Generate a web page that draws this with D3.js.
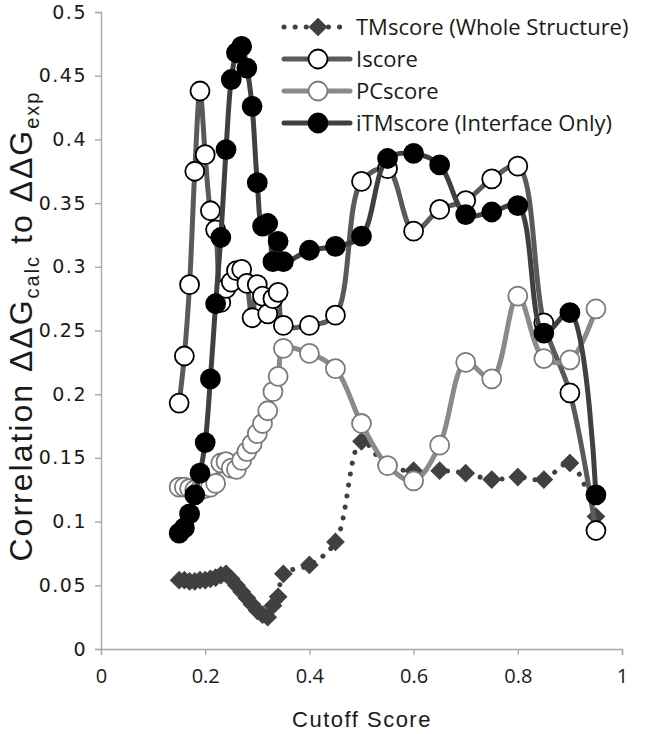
<!DOCTYPE html>
<html><head><meta charset="utf-8">
<script src="https://cdn.jsdelivr.net/npm/d3@7"></script>
<style>body{margin:0;background:#fff} svg{display:block}</style>
</head><body><svg id="c" width="653" height="734"></svg>
<script>
// ---- data ----
const cutoffs = [0.15,0.16,0.17,0.18,0.19,0.20,0.21,0.22,0.23,0.24,0.25,0.26,0.27,0.28,0.29,0.30,0.31,0.32,0.33,0.34,0.35,
                 0.40,0.45,0.50,0.55,0.60,0.65,0.70,0.75,0.80,0.85,0.90,0.95];
const tmscore = [0.054,0.054,0.053,0.053,0.054,0.054,0.055,0.056,0.058,0.059,0.055,0.050,0.045,0.040,0.035,0.030,0.027,0.025,0.034,0.041,0.059,
                 0.066,0.084,0.163,0.143,0.140,0.140,0.138,0.133,0.135,0.133,0.146,0.104];
const iscore  = [0.193,0.230,0.286,0.375,0.438,0.388,0.344,0.329,0.272,0.283,0.288,0.297,0.298,0.287,0.260,0.286,0.277,0.263,0.275,0.280,0.254,
                 0.254,0.262,0.367,0.377,0.328,0.345,0.352,0.369,0.379,0.256,0.201,0.093];
const pcscore = [0.127,0.127,0.126,0.125,0.125,0.126,0.127,0.130,0.146,0.147,0.142,0.141,0.148,0.155,0.161,0.169,0.177,0.187,0.202,0.214,0.236,
                 0.232,0.220,0.177,0.144,0.132,0.160,0.225,0.212,0.277,0.228,0.227,0.267];
const itmscore= [0.091,0.095,0.106,0.121,0.138,0.162,0.212,0.271,0.323,0.392,0.447,0.468,0.473,0.456,0.426,0.366,0.332,0.334,0.304,0.320,0.304,
                 0.313,0.316,0.324,0.385,0.389,0.380,0.341,0.343,0.348,0.248,0.264,0.121];
const seriesNames = ["TMscore (Whole Structure)","Iscore","PCscore","iTMscore (Interface Only)"];
const xTicks = [0,0.2,0.4,0.6,0.8,1];
const xTickLabels = ["0","0.2","0.4","0.6","0.8","1"];
const yTicks = [0,0.05,0.1,0.15,0.2,0.25,0.3,0.35,0.4,0.45,0.5];
const yTickLabels = ["0","0.05","0.1","0.15","0.2","0.25","0.3","0.35","0.4","0.45","0.5"];

// ---- styles ----
const styles = [
  {line:"#404040", lw:5, dash:"0.1 11", marker:"diamond", fill:"#404040", stroke:"#404040"},
  {line:"#5a5a5a", lw:5, dash:null, marker:"circle", fill:"#fff", stroke:"#000"},
  {line:"#8a8a8a", lw:5, dash:null, marker:"circle", fill:"#fff", stroke:"#7a7a7a"},
  {line:"#404040", lw:5, dash:null, marker:"circle", fill:"#000", stroke:"#000"}
];
const allSeries = [tmscore, iscore, pcscore, itmscore];

const svg = d3.select("#c");
const x = d3.scaleLinear().domain([0,1]).range([101,622]);
const y = d3.scaleLinear().domain([0,0.5]).range([649,12]);
const axisColor = "#a9a9a9";

// y axis
const gy = svg.append("g").attr("transform","translate(101,0)")
  .call(d3.axisLeft(y).tickValues(yTicks).tickFormat((d,i)=>yTickLabels[i]).tickSize(6).tickPadding(8));
gy.select(".domain").attr("stroke",axisColor).attr("stroke-width",1.4);
gy.selectAll(".tick line").attr("stroke",axisColor).attr("stroke-width",1.4);
gy.selectAll(".tick text").attr("font-family","'DejaVu Sans', Verdana, sans-serif")
  .attr("font-size",19).attr("letter-spacing","1.5px").attr("fill","#1a1a1a");

// x axis
const gx = svg.append("g").attr("transform","translate(0,649)")
  .call(d3.axisBottom(x).tickValues(xTicks).tickFormat((d,i)=>xTickLabels[i]).tickSize(6).tickPadding(14));
gx.select(".domain").attr("stroke",axisColor).attr("stroke-width",1.4);
gx.selectAll(".tick line").attr("stroke",axisColor).attr("stroke-width",1.4);
gx.selectAll(".tick text").attr("font-family","'Open Sans', sans-serif")
  .attr("font-size",20).attr("fill","#1a1a1a");

// axis titles
svg.append("text").attr("x",362).attr("y",727).attr("text-anchor","middle")
  .attr("font-family","'Liberation Sans', Arial, sans-serif").attr("font-size",22)
  .attr("letter-spacing","1.5px").attr("fill","#1a1a1a").text("Cutoff Score");

const yt = svg.append("text").attr("transform","translate(32,326) rotate(-90)")
  .attr("text-anchor","middle").attr("font-family","'Liberation Sans', Arial, sans-serif")
  .attr("font-size",32).attr("letter-spacing","2px").attr("fill","#1a1a1a");
yt.append("tspan").text("Correlation \u0394\u0394G");
yt.append("tspan").attr("font-size",20).attr("dy",7).text("calc");
yt.append("tspan").attr("dy",-7).text(" to \u0394\u0394G");
yt.append("tspan").attr("font-size",20).attr("dy",7).text("exp");

// series
const line = d3.line().x((d,i)=>x(cutoffs[i])).y(d=>y(d)).curve(d3.curveCatmullRom.alpha(0.5));
const diamond = d3.symbol(d3.symbolSquare, 150);

function drawMarker(g, st, cx, cy){
  if(st.marker==="diamond"){
    g.append("path").attr("d",diamond()).attr("transform",`translate(${cx},${cy}) rotate(45)`)
      .attr("fill",st.fill).attr("stroke",st.stroke).attr("stroke-width",1);
  } else {
    g.append("circle").attr("cx",cx).attr("cy",cy).attr("r",9.5)
      .attr("fill",st.fill).attr("stroke",st.stroke).attr("stroke-width",1.8);
  }
}

allSeries.forEach((vals,si)=>{
  const st = styles[si];
  const g = svg.append("g");
  const p = g.append("path").attr("d",line(vals)).attr("fill","none")
    .attr("stroke",st.line).attr("stroke-width",st.lw).attr("stroke-linecap","round").attr("stroke-linejoin","round");
  if(st.dash) p.attr("stroke-dasharray",st.dash);
  vals.forEach((v,i)=>drawMarker(g, st, x(cutoffs[i]), y(v)));
});

// legend
const legY = [27,59,91,123];
seriesNames.forEach((name,si)=>{
  const st = styles[si];
  const g = svg.append("g");
  const l = g.append("line").attr("x1",284).attr("x2",350).attr("y1",legY[si]).attr("y2",legY[si])
    .attr("stroke",st.line).attr("stroke-width",st.lw).attr("stroke-linecap","round");
  if(st.dash) l.attr("stroke-dasharray",st.dash);
  drawMarker(g, st, 318, legY[si]);
  g.append("text").attr("x",356).attr("y",legY[si]+7.5)
    .attr("font-family","'Open Sans', sans-serif").attr("font-size",22).attr("fill","#1a1a1a").text(name);
});
</script></body></html>
